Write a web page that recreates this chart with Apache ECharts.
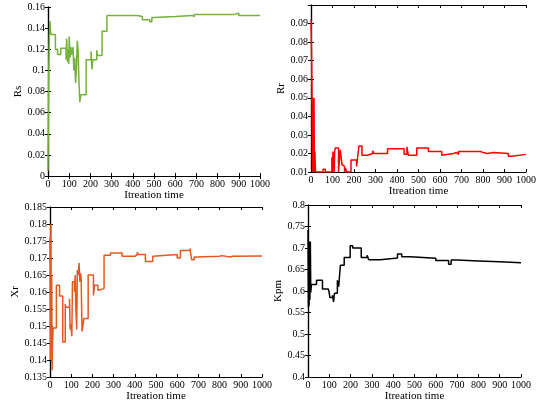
<!DOCTYPE html>
<html><head><meta charset="utf-8">
<script src="https://cdn.jsdelivr.net/npm/echarts@6/dist/echarts.min.js"></script>
<style>html,body{margin:0;padding:0;background:#fff}#c{width:546px;height:403px}</style>
</head><body><div id="c"></div>
<script>
// x tick labels (shared)
const iterTicks = [0,100,200,300,400,500,600,700,800,900,1000];
const xName = 'Itreation time';
const yNames = ['Rs','Rr','Xr','Kpm'];
// [iteration, value] step points (value holds from iteration onward)
const rsData = [[0,0.005],[2,0.06],[4,0.105],[6,0.13],[9,0.147],[11,0.14],[14,0.134],[35,0.12],[45,0.115],[60,0.121],[85,0.11],[88,0.13],[92,0.108],[95,0.12],[98,0.106],[100,0.132],[104,0.112],[108,0.122],[112,0.115],[118,0.122],[122,0.1],[126,0.112],[130,0.088],[134,0.1],[138,0.128],[142,0.12],[146,0.09],[150,0.07],[155,0.077],[180,0.11],[203,0.118],[207,0.101],[211,0.11],[230,0.119],[233,0.114],[255,0.137],[278,0.152],[420,0.151],[445,0.148],[480,0.146],[490,0.15],[500,0.151],[600,0.152],[680,0.151],[690,0.153],[880,0.154],[900,0.152],[1000,0.152]];
const rrData = [[0,0.092],[3,0.07],[5,0.05],[7,0.01],[8,0.05],[10,0.01],[11,0.05],[13,0.01],[14,0.05],[16,0.01],[18,0.021],[21,0.01],[56,0.0115],[67,0.01],[97,0.018],[100,0.01],[102,0.021],[108,0.01],[110,0.021],[113,0.023],[128,0.01],[131,0.01],[136,0.022],[144,0.014],[152,0.013],[156,0.01],[160,0.012],[167,0.01],[186,0.0165],[212,0.013],[216,0.017],[223,0.024],[237,0.019],[263,0.02],[287,0.0215],[292,0.02],[356,0.0225],[433,0.0195],[446,0.0235],[453,0.019],[492,0.023],[546,0.021],[608,0.019],[616,0.02],[663,0.0205],[676,0.0195],[686,0.021],[790,0.0205],[800,0.02],[820,0.0205],[848,0.02],[918,0.0185],[935,0.0195],[1000,0.0195]];
const xrData = [[0,0.176],[2,0.14],[4,0.18],[6,0.143],[8,0.165],[10,0.137],[12,0.145],[15,0.1494],[30,0.162],[45,0.1588],[60,0.1453],[72,0.1565],[75,0.1555],[92,0.158],[95,0.149],[98,0.1505],[103,0.147],[106,0.163],[116,0.16],[119,0.165],[122,0.155],[126,0.149],[129,0.1665],[133,0.165],[137,0.1685],[141,0.163],[144,0.1655],[147,0.164],[151,0.1484],[160,0.1522],[180,0.165],[205,0.159],[210,0.162],[226,0.1605],[230,0.161],[255,0.1708],[285,0.1715],[340,0.1705],[400,0.171],[412,0.1718],[416,0.171],[450,0.169],[485,0.1705],[490,0.171],[600,0.170],[615,0.1722],[660,0.1728],[668,0.1695],[680,0.1703],[690,0.1705],[800,0.1707],[810,0.1703],[850,0.1705],[860,0.1706],[1000,0.1706]];
const kpmData = [[0,0.742],[2,0.562],[4,0.7],[5,0.565],[7,0.715],[9,0.58],[11,0.715],[13,0.597],[16,0.615],[40,0.625],[68,0.605],[95,0.607],[98,0.6],[103,0.585],[115,0.59],[120,0.575],[124,0.595],[138,0.625],[144,0.61],[152,0.66],[170,0.678],[198,0.705],[210,0.7],[250,0.678],[278,0.683],[285,0.673],[340,0.677],[420,0.686],[440,0.68],[480,0.676],[600,0.671],[660,0.662],[672,0.672],[700,0.67],[800,0.668],[900,0.666],[1000,0.665]];
const yMin = [0, 0.01, 0.135, 0.4];
const yMax = [0.16, 0.1, 0.185, 0.8];
const yStep = [0.02, 0.01, 0.005, 0.05];
const colors = ['#74b23a','#ff0000','#e2581e','#000000'];
const allData = [rsData, rrData, xrData, kpmData];

const grids = [
  {left:48, top:7, width:212, height:169},
  {left:311, top:5, width:215, height:167},
  {left:50, top:207, width:212, height:170},
  {left:308, top:205, width:213, height:175}
];
const yNameGap = [23, 22, 27, 22];
const font = 'Liberation Serif, Times New Roman, serif';
const lineStyle = {color:'#000', width:1.2};
const tickStyle = {color:'#000', width:1};
const xAxis = [], yAxis = [], series = [];
grids.forEach((g,i)=>{
  xAxis.push({gridIndex:i, type:'value', min:0, max:1000, interval:100, position:'bottom',
    name:xName, nameLocation:'middle', nameGap:13,
    nameTextStyle:{fontFamily:font, fontSize:11, color:'#000'},
    axisLine:{lineStyle}, axisTick:{show:true, inside:true, length:3, lineStyle:tickStyle},
    axisLabel:{fontFamily:font, fontSize:10, color:'#000', margin:3, formatter:v=>String(v)}, splitLine:{show:false}});
  xAxis.push({gridIndex:i, type:'value', min:0, max:1000, interval:100, position:'top',
    axisLine:{lineStyle}, axisTick:{show:true, inside:true, length:3, lineStyle:tickStyle},
    axisLabel:{show:false}, splitLine:{show:false}});
  yAxis.push({gridIndex:i, type:'value', min:yMin[i], max:yMax[i], interval:yStep[i], position:'left',
    name:yNames[i], nameLocation:'middle', nameGap:yNameGap[i],
    nameTextStyle:{fontFamily:font, fontSize:11, color:'#000'},
    axisLine:{lineStyle}, axisTick:{show:true, inside:true, length:3, lineStyle:tickStyle},
    axisLabel:{fontFamily:font, fontSize:10, color:'#000', margin:3, showMaxLabel: i!==1}, splitLine:{show:false}});
  yAxis.push({gridIndex:i, type:'value', min:yMin[i], max:yMax[i], interval:yStep[i], position:'right',
    axisLine:{lineStyle}, axisTick:{show:true, inside:true, length:3, lineStyle:tickStyle},
    axisLabel:{show:false}, splitLine:{show:false}});
  series.push({type:'line', xAxisIndex:2*i, yAxisIndex:2*i, data:allData[i], step:'end',
    showSymbol:false, symbol:'none', animation:false, z:5,
    lineStyle:{color:colors[i], width:1.5}, itemStyle:{color:colors[i]}});
});
const chart = echarts.init(document.getElementById('c'), null, {renderer:'canvas'});
chart.setOption({animation:false, grid:grids, xAxis, yAxis, series});
</script></body></html>
